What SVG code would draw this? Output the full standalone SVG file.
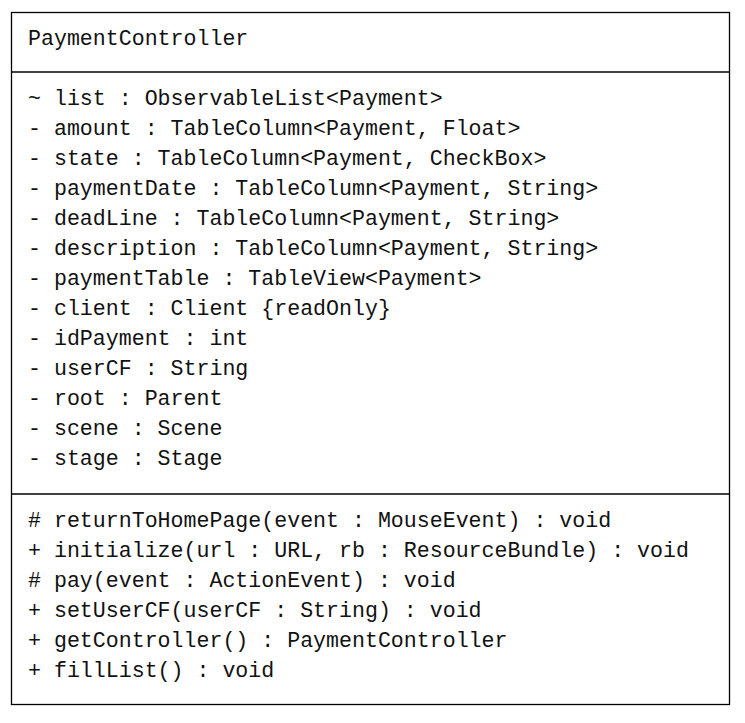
<svg xmlns="http://www.w3.org/2000/svg" width="745" height="723" viewBox="0 0 745 723">
  <style>
    .box { fill: #ffffff; stroke: #000000; stroke-width: 1.3; }
    .sep { stroke: #000000; stroke-width: 1.3; }
    .t { font-family: "Liberation Mono", "Courier New", monospace; font-size: 21.6px; fill: #111111; white-space: pre; }
  </style>
  <rect width="745" height="723" fill="#ffffff"/>
  <g id="PaymentController">
    <rect class="box" x="11.5" y="12.5" width="718" height="692"/>
    <line class="sep" x1="11.5" y1="72" x2="729.5" y2="72"/>
    <line class="sep" x1="11.5" y1="494" x2="729.5" y2="494"/>
    <text class="t" x="28" y="45">PaymentController</text>
    <g id="attributes">
      <text class="t" x="28" y="105">~ list : ObservableList&lt;Payment&gt;</text>
      <text class="t" x="28" y="135">- amount : TableColumn&lt;Payment, Float&gt;</text>
      <text class="t" x="28" y="165">- state : TableColumn&lt;Payment, CheckBox&gt;</text>
      <text class="t" x="28" y="195">- paymentDate : TableColumn&lt;Payment, String&gt;</text>
      <text class="t" x="28" y="225">- deadLine : TableColumn&lt;Payment, String&gt;</text>
      <text class="t" x="28" y="255">- description : TableColumn&lt;Payment, String&gt;</text>
      <text class="t" x="28" y="285">- paymentTable : TableView&lt;Payment&gt;</text>
      <text class="t" x="28" y="315">- client : Client {readOnly}</text>
      <text class="t" x="28" y="345">- idPayment : int</text>
      <text class="t" x="28" y="375">- userCF : String</text>
      <text class="t" x="28" y="405">- root : Parent</text>
      <text class="t" x="28" y="435">- scene : Scene</text>
      <text class="t" x="28" y="465">- stage : Stage</text>
    </g>
    <g id="operations">
      <text class="t" x="28" y="527"># returnToHomePage(event : MouseEvent) : void</text>
      <text class="t" x="28" y="557">+ initialize(url : URL, rb : ResourceBundle) : void</text>
      <text class="t" x="28" y="587"># pay(event : ActionEvent) : void</text>
      <text class="t" x="28" y="617">+ setUserCF(userCF : String) : void</text>
      <text class="t" x="28" y="647">+ getController() : PaymentController</text>
      <text class="t" x="28" y="677">+ fillList() : void</text>
    </g>
  </g>
</svg>
